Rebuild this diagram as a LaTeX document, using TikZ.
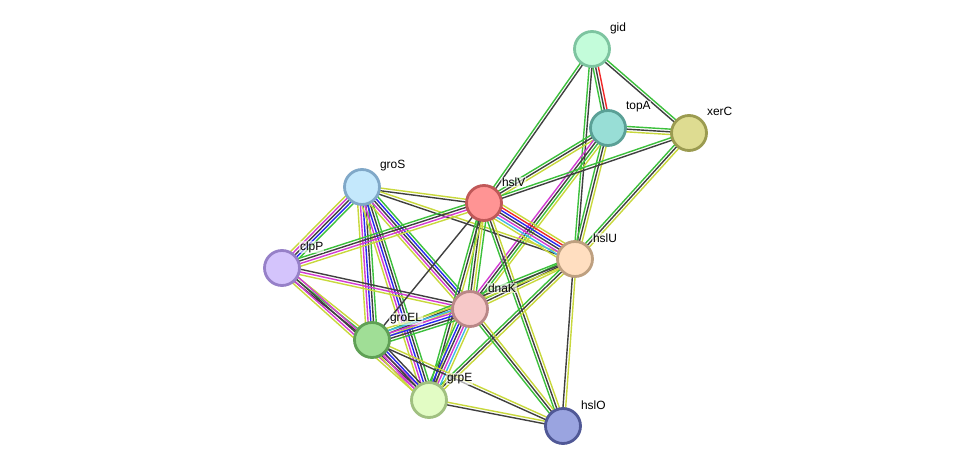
\documentclass[tikz,border=0pt]{standalone}
\usepackage{xcolor}
\usepackage{fontspec}
\setmainfont{Liberation Sans}
\usepackage{tikz}
\usetikzlibrary{calc}
\pgfdeclarelayer{bg}
\pgfsetlayers{bg,main}

% evidence colours
\definecolor{nb}{HTML}{3CC03C}
\definecolor{fu}{HTML}{F02828}
\definecolor{oc}{HTML}{2828F0}
\definecolor{cx}{HTML}{404040}
\definecolor{ex}{HTML}{D23CD2}
\definecolor{db}{HTML}{40B8E8}
\definecolor{tm}{HTML}{C8D83C}

% one link = several thin parallel lines, one per evidence colour
\newcommand{\stringlink}[3]{%
  \foreach \c [count=\i] in {#3} {\global\let\nlk\i}%
  \foreach \c [count=\i] in {#3} {%
    \pgfmathsetmacro{\off}{(\i-(\nlk+1)/2)*0.054}%
    \draw[link, color=\c] ($(#1.center)!\off cm!90:(#2.center)$) -- ($(#2.center)!\off cm!-90:(#1.center)$);
  }%
}

\begin{document}
\begin{tikzpicture}[x=0.02cm, y=-0.02cm,
    prot/.style={circle, draw, line width=1.6pt, minimum size=0.70cm, inner sep=0pt},
    lbl/.style={anchor=west, font=\fontsize{6.8}{8}\selectfont, fill=white, fill opacity=0.6, text opacity=1, inner sep=0.4pt},
    link/.style={line width=0.8pt}]
  \useasboundingbox (0,0) rectangle (975,472);

  \node[prot, fill={rgb,255:red,195;green,252;blue,218}, draw={rgb,255:red,125;green,196;blue,160}] (gid) at (592,49) {};
  \node[prot, fill={rgb,255:red,152;green,222;blue,214}, draw={rgb,255:red,90;green,160;blue,150}] (topA) at (608,128) {};
  \node[prot, fill={rgb,255:red,222;green,220;blue,145}, draw={rgb,255:red,155;green,155;blue,80}] (xerC) at (689,133) {};
  \node[prot, fill={rgb,255:red,196;green,232;blue,252}, draw={rgb,255:red,128;green,168;blue,200}] (groS) at (362,187) {};
  \node[prot, fill={rgb,255:red,255;green,148;blue,148}, draw={rgb,255:red,192;green,88;blue,88}] (hslV) at (484,203) {};
  \node[prot, fill={rgb,255:red,212;green,196;blue,252}, draw={rgb,255:red,150;green,128;blue,200}] (clpP) at (282,268) {};
  \node[prot, fill={rgb,255:red,255;green,222;blue,192}, draw={rgb,255:red,190;green,160;blue,128}] (hslU) at (575,259) {};
  \node[prot, fill={rgb,255:red,246;green,200;blue,200}, draw={rgb,255:red,185;green,135;blue,135}] (dnaK) at (470,309) {};
  \node[prot, fill={rgb,255:red,160;green,222;blue,150}, draw={rgb,255:red,95;green,160;blue,85}] (groEL) at (372,340) {};
  \node[prot, fill={rgb,255:red,226;green,252;blue,196}, draw={rgb,255:red,160;green,192;blue,128}] (grpE) at (429,400) {};
  \node[prot, fill={rgb,255:red,154;green,164;blue,224}, draw={rgb,255:red,80;green,88;blue,150}] (hslO) at (563,426) {};

  \begin{pgfonlayer}{bg}
    \stringlink{gid}{topA}{nb,cx,fu}
    \stringlink{gid}{xerC}{cx,nb}
    \stringlink{gid}{hslV}{nb,cx}
    \stringlink{gid}{hslU}{nb,cx}
    \stringlink{topA}{xerC}{tm,cx,nb}
    \stringlink{topA}{hslV}{nb,cx,tm}
    \stringlink{topA}{hslU}{nb,cx,tm}
    \stringlink{topA}{dnaK}{ex,cx,nb,tm}
    \stringlink{xerC}{hslV}{nb,cx}
    \stringlink{xerC}{hslU}{nb,cx,tm}
    \stringlink{groS}{hslV}{cx,tm}
    \stringlink{groS}{hslU}{cx,tm}
    \stringlink{groS}{clpP}{tm,ex,cx,oc,nb}
    \stringlink{groS}{groEL}{tm,ex,oc,cx,nb}
    \stringlink{groS}{grpE}{tm,ex,oc,cx,nb}
    \stringlink{groS}{dnaK}{tm,ex,cx,oc,nb}
    \stringlink{clpP}{hslV}{tm,ex,cx,nb}
    \stringlink{clpP}{dnaK}{tm,ex,cx}
    \stringlink{clpP}{groEL}{cx,nb,tm}
    \stringlink{clpP}{grpE}{tm,ex,cx,ex}
    \stringlink{hslV}{hslU}{tm,db,ex,cx,oc,fu,tm}
    \stringlink{hslV}{dnaK}{nb,cx,tm,nb}
    \stringlink{hslV}{groEL}{cx}
    \stringlink{hslV}{grpE}{nb,cx,tm}
    \stringlink{hslV}{hslO}{nb,cx,tm}
    \stringlink{hslU}{dnaK}{nb,cx,tm}
    \stringlink{hslU}{groEL}{nb,cx,tm}
    \stringlink{hslU}{grpE}{nb,cx,tm}
    \stringlink{hslU}{hslO}{cx,tm}
    \stringlink{dnaK}{groEL}{tm,db,ex,oc,cx,nb}
    \stringlink{dnaK}{grpE}{nb,oc,cx,ex,db,tm}
    \stringlink{dnaK}{hslO}{nb,cx,tm}
    \stringlink{groEL}{grpE}{tm,ex,cx,oc,cx}
    \stringlink{groEL}{hslO}{cx,tm}
    \stringlink{grpE}{hslO}{cx,tm}
  \end{pgfonlayer}

  \node[lbl] (gidt) at (609,28) {gid};
  \node[lbl] (topAt) at (625,107) {topA};
  \node[lbl] (xerCt) at (706,111) {xerC};
  \node[lbl] (groSt) at (379,166) {groS};
  \node[lbl] (hslVt) at (501,182) {hslV};
  \node[lbl] (clpPt) at (299,247) {clpP};
  \node[lbl] (hslUt) at (592,238) {hslU};
  \node[lbl] (dnaKt) at (487,288) {dnaK};
  \node[lbl] (groELt) at (389,319) {groEL};
  \node[lbl] (grpEt) at (446,379) {grpE};
  \node[lbl] (hslOt) at (580,405) {hslO};
\end{tikzpicture}
\end{document}
